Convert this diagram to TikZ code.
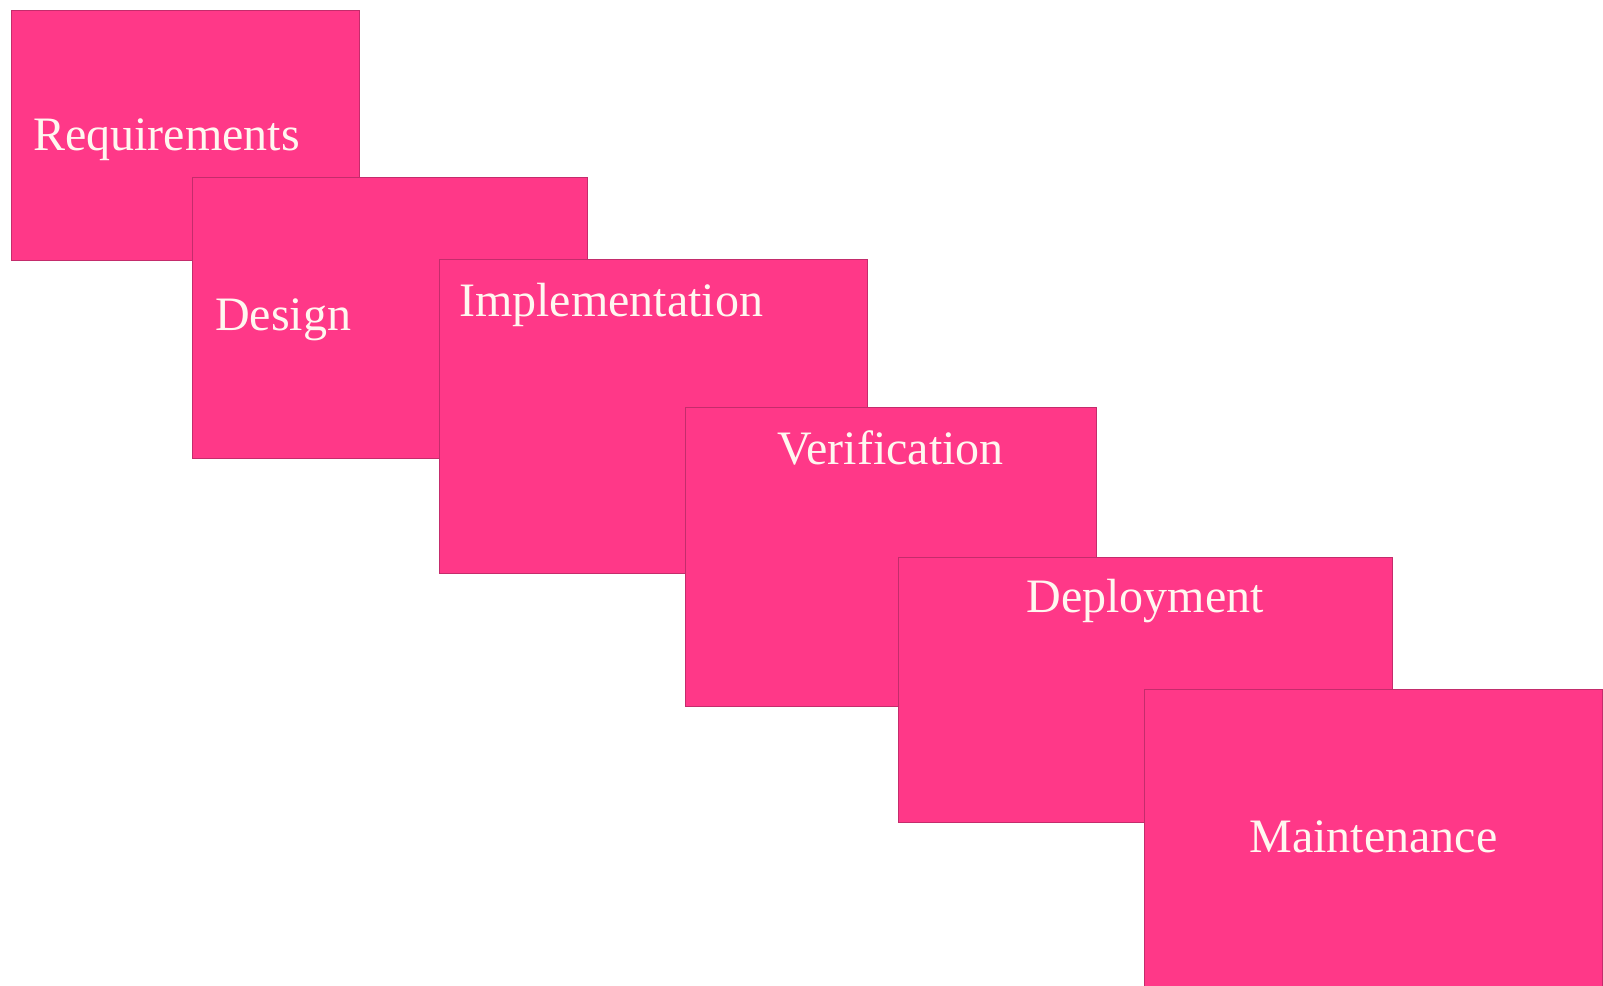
\documentclass[tikz,border=0pt]{standalone}
\usepackage{fontspec}
\setmainfont{Liberation Serif}
\definecolor{phasepink}{RGB}{255,56,136}
\definecolor{phaseedge}{RGB}{196,44,108}
\definecolor{phasetext}{RGB}{255,247,240}
\tikzset{
  phase/.style={draw=phaseedge, fill=phasepink, line width=1.3pt, anchor=north west, inner sep=0pt},
  phaselabel/.style={text=phasetext, font=\fontsize{48}{56}\selectfont, inner sep=0pt}
}
\begin{document}
\begin{tikzpicture}[x=1pt, y=-1pt]
      \useasboundingbox (0,0) rectangle (1603,985);
      \clip (0,0) rectangle (1603,985);
      % Requirements
      \node[phase, minimum width=348, minimum height=250] (req) at (11,10) {};
      \node[phaselabel, anchor=base west] (reqlabel) at (33,150) {Requirements};
      % Design
      \node[phase, minimum width=395, minimum height=281] (des) at (192,177) {};
      \node[phaselabel, anchor=base west] (deslabel) at (215,330) {Design};
      % Implementation
      \node[phase, minimum width=428, minimum height=314] (imp) at (439,259) {};
      \node[phaselabel, anchor=base west] (implabel) at (459,316) {Implementation};
      % Verification
      \node[phase, minimum width=411, minimum height=299] (ver) at (685,407) {};
      \node[phaselabel, anchor=base] (verlabel) at (890.5,464) {Verification};
      % Deployment
      \node[phase, minimum width=494, minimum height=265] (dep) at (898,557) {};
      \node[phaselabel, anchor=base] (deplabel) at (1145,612) {Deployment};
      % Maintenance
      \node[phase, minimum width=458, minimum height=310] (mai) at (1144,689) {};
      \node[phaselabel, anchor=base] (mailabel) at (1373.5,852) {Maintenance};
    \end{tikzpicture}
\end{document}
